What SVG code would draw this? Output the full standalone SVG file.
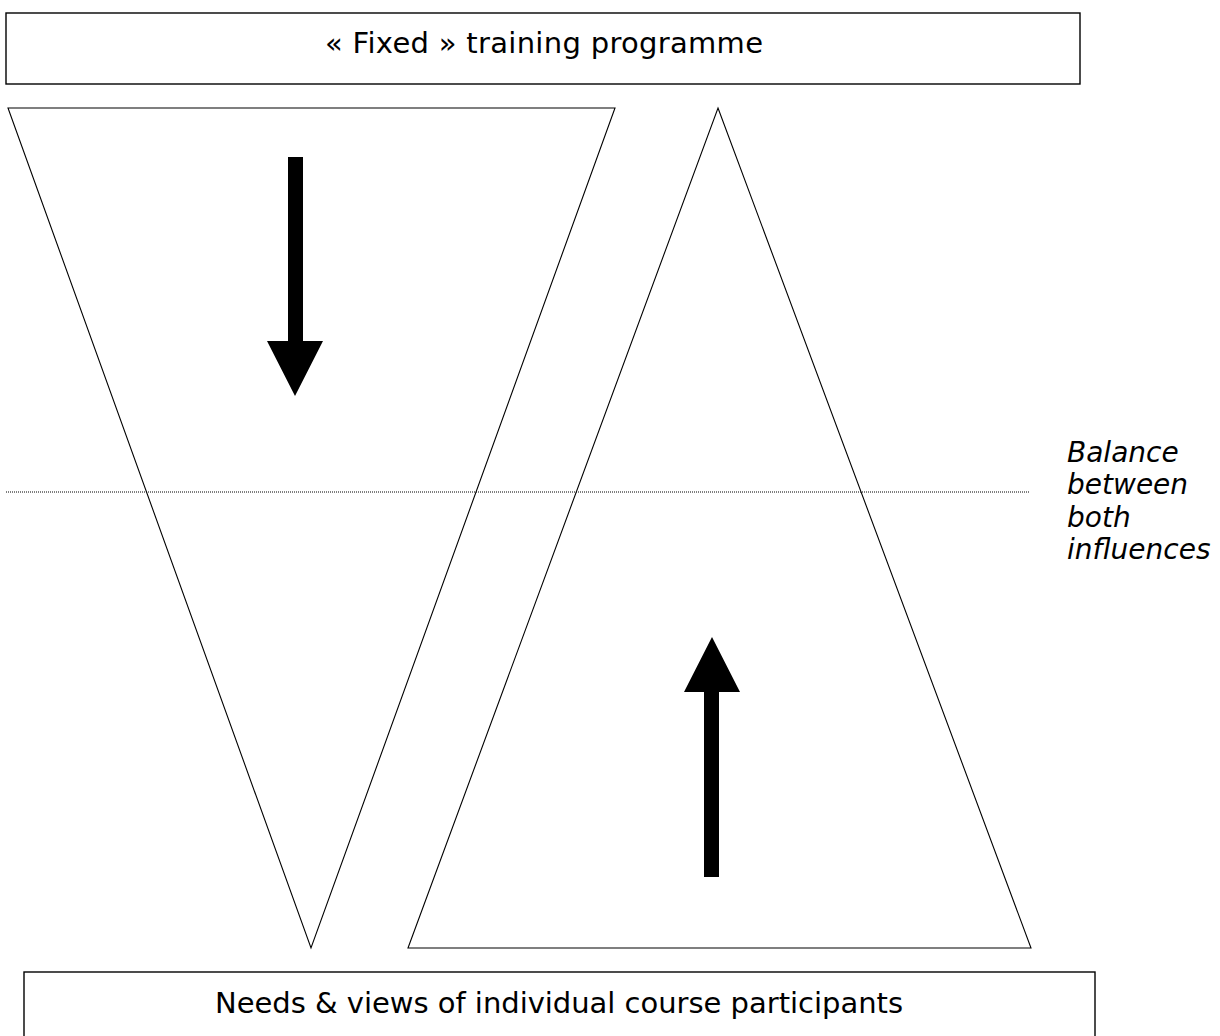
<svg xmlns="http://www.w3.org/2000/svg" width="1220" height="1036" viewBox="0 0 1220 1036">
<style>
.box{fill:#fff;stroke:#000;stroke-width:1.4}
.tri{fill:none;stroke:#000;stroke-width:1.1}
.lbl{font-family:"DejaVu Sans",Verdana,sans-serif;font-size:29px;fill:#000}
.side{font-family:"DejaVu Sans",Verdana,sans-serif;font-size:28px;font-style:italic;fill:#000}
.arrow{fill:#000}
</style>
<rect width="1220" height="1036" fill="#fff"/>
<g id="top-box">
<rect class="box" x="6" y="13" width="1074" height="71"/>
<text class="lbl" x="325" y="53" textLength="438" lengthAdjust="spacing">« Fixed » training programme</text>
</g>
<g id="down-triangle">
<polygon class="tri" points="8,108 615,108 311,948"/>
</g>
<g id="up-triangle">
<polygon class="tri" points="718,108 1031,948 408,948"/>
</g>
<g id="balance-line">
<line x1="6" y1="492" x2="1030" y2="492" stroke="#000" stroke-width="1" stroke-dasharray="1,1"/>
</g>
<g id="balance-label">
<text class="side" x="1067" y="462">Balance</text>
<text class="side" x="1067" y="494">between</text>
<text class="side" x="1067" y="527">both</text>
<text class="side" x="1067" y="559">influences</text>
</g>
<g id="connectors">
<polygon class="arrow" points="288,157 303,157 303,341 323,341 295,396 267,341 288,341"/>
<polygon class="arrow" points="704,877 719,877 719,692 740,692 712,637 684,692 704,692"/>
</g>
<g id="bottom-box">
<rect class="box" x="24" y="972" width="1071" height="80"/>
<text class="lbl" x="215" y="1013" textLength="688" lengthAdjust="spacing">Needs &amp; views of individual course participants</text>
</g>
</svg>
